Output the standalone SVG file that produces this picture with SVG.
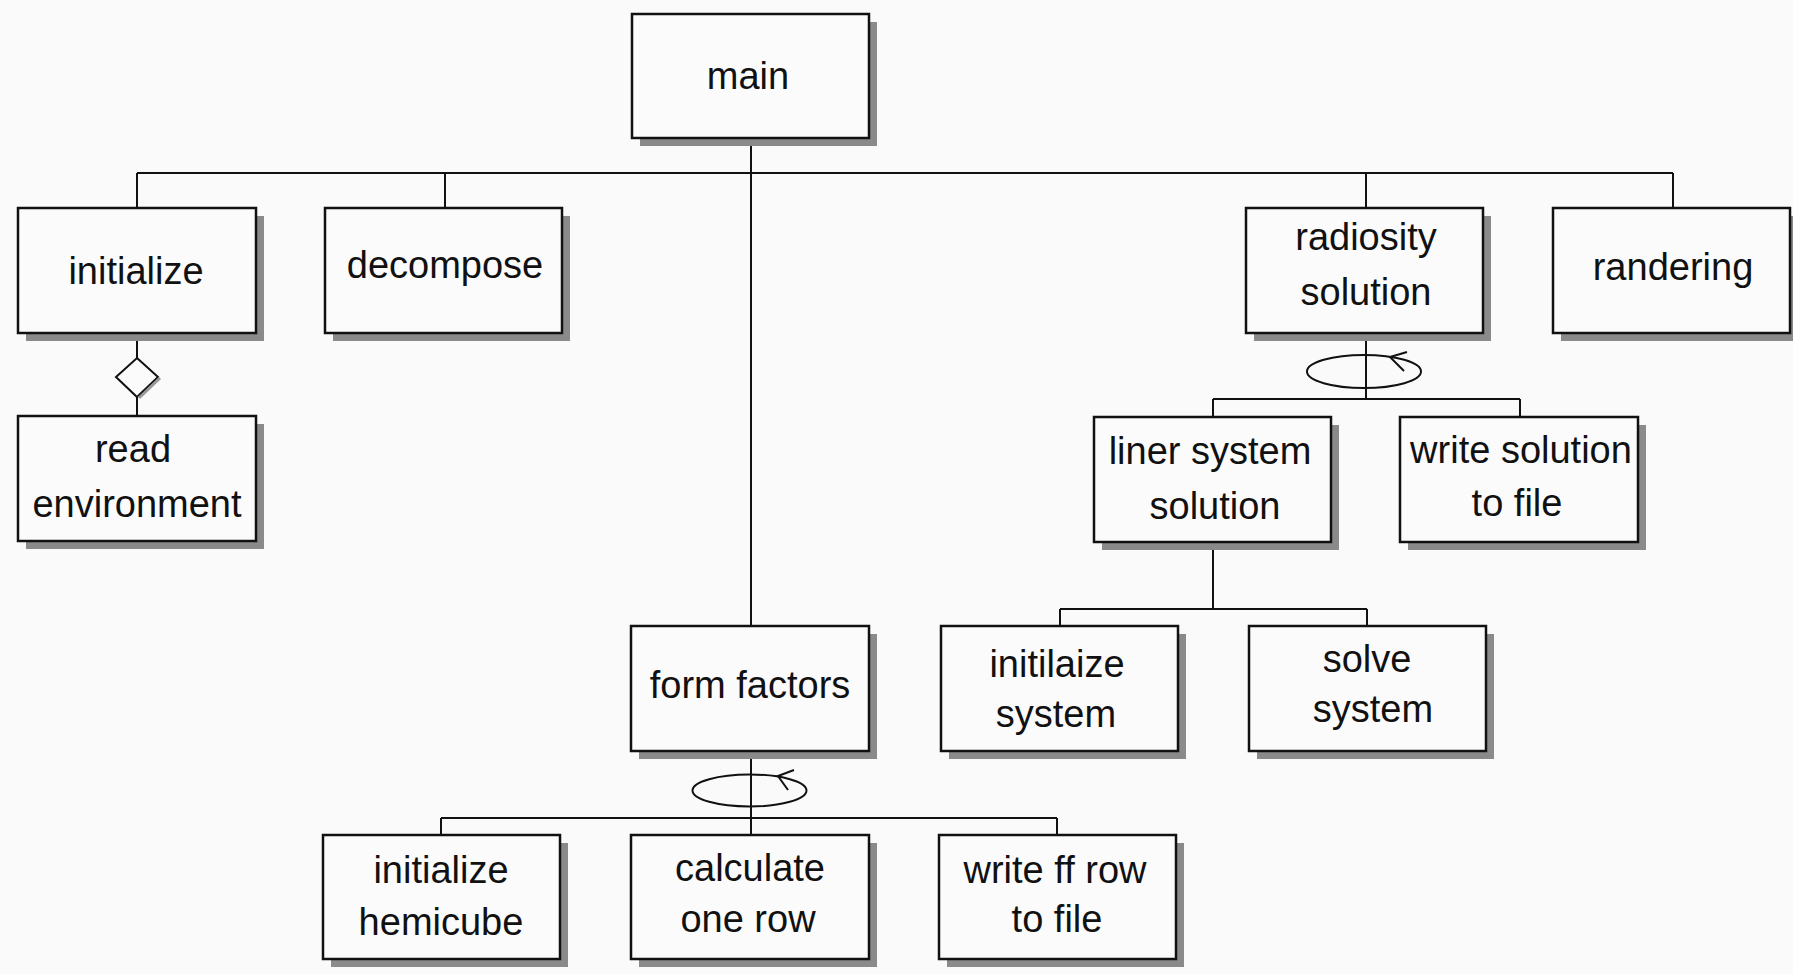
<svg xmlns="http://www.w3.org/2000/svg" width="1793" height="974" viewBox="0 0 1793 974">
<style>
.sh{fill:#8a8a8a}
.bx{fill:#fbfbfb;stroke:#111;stroke-width:2.5}
.t{font-family:"Liberation Sans",Arial,sans-serif;font-size:38px;fill:#111;text-anchor:middle}
.c{fill:none;stroke:#111;stroke-width:2}
</style>
<rect width="1793" height="974" fill="#fafafa"/>
<g id="connectors">
<path class="c" d="M751 138V626M137 173H1673M137 173V208M445 173V208M1366 173V208M1673 173V208"/>
<path class="c" d="M137 333V358M137 397V416"/>
<polygon points="137,358 158,377 137,397 116,377" fill="#fbfbfb" stroke="#111" stroke-width="2"/>
<path d="M139,398 L160,378" stroke="#999" stroke-width="3" fill="none"/>
<path class="c" d="M1366 333V399M1213 399H1520M1213 399V417M1520 399V417"/>
<ellipse class="c" cx="1364" cy="371.5" rx="57" ry="16.5"/>
<path class="c" d="M1407 352L1390 357L1404 371"/>
<path class="c" d="M1213 542V609M1060 609H1367M1060 609V626M1367 609V626"/>
<path class="c" d="M751 751V835M441 818H1057M441 818V835M1057 818V835"/>
<ellipse class="c" cx="749.5" cy="790.5" rx="57" ry="16"/>
<path class="c" d="M794 770L778 776L788 790"/>
</g>
<g id="main"><rect class="sh" x="640" y="22" width="237" height="124"/><rect class="bx" x="632" y="14" width="237" height="124"/><text class="t" x="748" y="89">main</text></g>
<g id="initialize"><rect class="sh" x="26" y="216" width="238" height="125"/><rect class="bx" x="18" y="208" width="238" height="125"/><text class="t" x="136" y="284">initialize</text></g>
<g id="decompose"><rect class="sh" x="333" y="216" width="237" height="125"/><rect class="bx" x="325" y="208" width="237" height="125"/><text class="t" x="445" y="278">decompose</text></g>
<g id="radiosity"><rect class="sh" x="1254" y="216" width="237" height="125"/><rect class="bx" x="1246" y="208" width="237" height="125"/><text class="t" x="1366" y="250">radiosity</text><text class="t" x="1366" y="305">solution</text></g>
<g id="randering"><rect class="sh" x="1561" y="216" width="237" height="125"/><rect class="bx" x="1553" y="208" width="237" height="125"/><text class="t" x="1673" y="280">randering</text></g>
<g id="read-environment"><rect class="sh" x="26" y="424" width="238" height="125"/><rect class="bx" x="18" y="416" width="238" height="125"/><text class="t" x="133" y="462">read</text><text class="t" x="137" y="517">environment</text></g>
<g id="liner-system"><rect class="sh" x="1102" y="425" width="237" height="125"/><rect class="bx" x="1094" y="417" width="237" height="125"/><text class="t" x="1210" y="464">liner system</text><text class="t" x="1215" y="519">solution</text></g>
<g id="write-solution"><rect class="sh" x="1408" y="425" width="238" height="125"/><rect class="bx" x="1400" y="417" width="238" height="125"/><text class="t" x="1521" y="463">write solution</text><text class="t" x="1517" y="516">to file</text></g>
<g id="form-factors"><rect class="sh" x="639" y="634" width="238" height="125"/><rect class="bx" x="631" y="626" width="238" height="125"/><text class="t" x="750" y="698">form factors</text></g>
<g id="initilaize-system"><rect class="sh" x="949" y="634" width="237" height="125"/><rect class="bx" x="941" y="626" width="237" height="125"/><text class="t" x="1057" y="677">initilaize</text><text class="t" x="1056" y="727">system</text></g>
<g id="solve-system"><rect class="sh" x="1257" y="634" width="237" height="125"/><rect class="bx" x="1249" y="626" width="237" height="125"/><text class="t" x="1367" y="672">solve</text><text class="t" x="1373" y="722">system</text></g>
<g id="initialize-hemicube"><rect class="sh" x="331" y="843" width="237" height="124"/><rect class="bx" x="323" y="835" width="237" height="124"/><text class="t" x="441" y="883">initialize</text><text class="t" x="441" y="935">hemicube</text></g>
<g id="calculate-one-row"><rect class="sh" x="639" y="843" width="238" height="124"/><rect class="bx" x="631" y="835" width="238" height="124"/><text class="t" x="750" y="881">calculate</text><text class="t" x="748" y="932">one row</text></g>
<g id="write-ff-row"><rect class="sh" x="947" y="843" width="237" height="124"/><rect class="bx" x="939" y="835" width="237" height="124"/><text class="t" x="1055" y="883">write ff row</text><text class="t" x="1057" y="932">to file</text></g>
</svg>
